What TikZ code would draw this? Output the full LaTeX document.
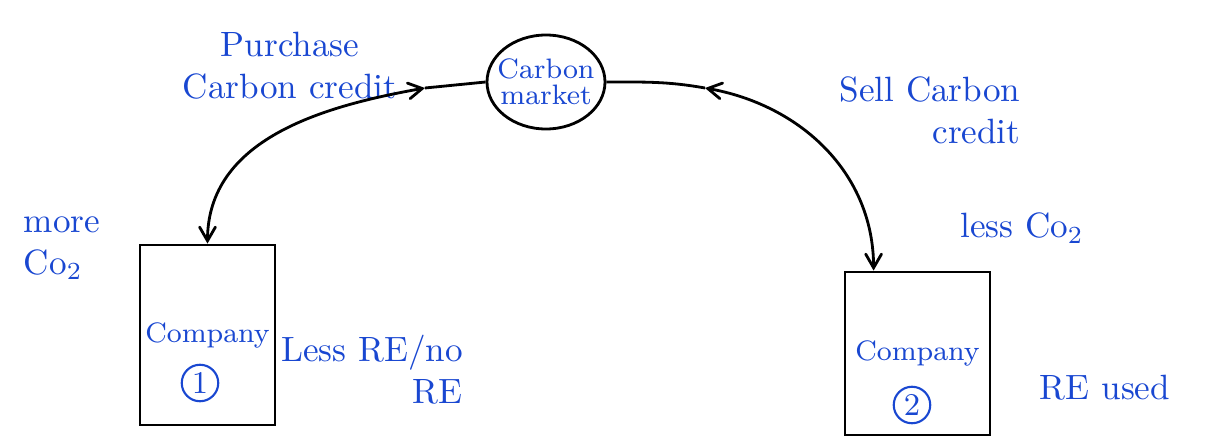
\documentclass[tikz,border=0pt]{standalone}
\usepackage{tikz}
\usetikzlibrary{arrows,shapes.geometric}
\definecolor{cblue}{rgb}{0.1,0.28,0.82}

\begin{document}
\begin{tikzpicture}[-,>=angle 60,line width=0.8pt,
  company node/.style={rectangle,draw,text=cblue,font=\footnotesize,inner sep=1pt},
  market node/.style={ellipse,draw,minimum width=1.18cm,minimum height=0.94cm,inner sep=-2pt,text=cblue,font=\footnotesize,align=center},
  num node/.style={circle,draw=cblue,text=cblue,line width=0.6pt,inner sep=1pt,font=\small},
  text node/.style={text=cblue,font=\normalsize,inner sep=0pt}]
  \useasboundingbox (0,0) rectangle (12.12,4.44);

  \node[market node] (m) at (5.46,3.62) {Carbon\\[-2pt]market};
  \node[company node,minimum width=1.35cm,minimum height=1.8cm] (c1) at (2.075,1.09) {Company};
  \node[company node,minimum width=1.45cm,minimum height=1.63cm] (c2) at (9.175,0.905) {Company};
  \node[num node] (n1) at (2.0,0.61) {1};
  \node[num node] (n2) at (9.12,0.39) {2};

  \coordinate (pl) at (4.25,3.56);
  \coordinate (pr) at (7.05,3.56);

  \node[text node,align=center] (buy) at (2.9,3.78) {Purchase\\Carbon credit};
  \node[text node,align=right] (sell) at (9.3,3.34) {Sell Carbon\\credit};
  \node[text node,align=left] (more) at (0.62,1.96) {more\\Co$_2$};
  \node[text node] (less) at (10.22,2.16) {less Co$_2$};
  \node[text node,align=right] (lre) at (3.72,0.74) {Less RE/no\\RE};
  \node[text node] (used) at (11.05,0.56) {RE used};

  \draw (m.west) -- (pl);
  \draw[<->] (c1.north) to[out=90,in=190] (pl);
  \draw (m.east) to[out=0,in=170] (pr);
  \draw[<->] (pr) to[out=-10,in=90] ([xshift=0.3cm]c2.north west);
\end{tikzpicture}
\end{document}
